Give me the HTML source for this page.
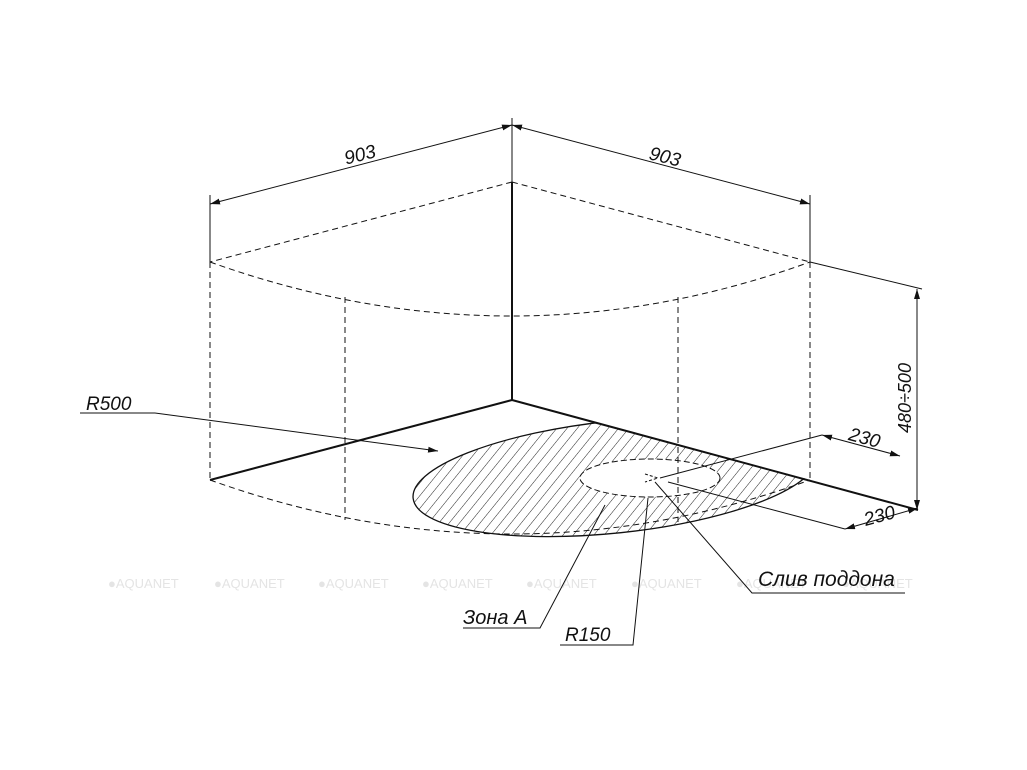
<!DOCTYPE html>
<html><head><meta charset="utf-8"><style>
html,body{margin:0;padding:0;background:#fff;}
svg{display:block;}
text{font-family:"Liberation Sans","DejaVu Sans",sans-serif;font-style:italic;fill:#111;}
text.wm{font-style:normal;fill:#e4e4e4;font-size:13px;}
</style></head><body>
<svg width="1027" height="770" viewBox="0 0 1027 770" xmlns="http://www.w3.org/2000/svg">
<defs>
<pattern id="h" patternUnits="userSpaceOnUse" width="8" height="8" patternTransform="rotate(45)">
<line x1="0" y1="0" x2="0" y2="8" stroke="#222" stroke-width="1"/>
</pattern>
<marker id="a" viewBox="0 0 10 6" refX="10" refY="3" markerWidth="10" markerHeight="6" orient="auto-start-reverse" markerUnits="userSpaceOnUse">
<path d="M0,0 L10,3 L0,6 z" fill="#111"/>
</marker>
<clipPath id="c"><polygon points="380,430 512,400 930,512 930,600 380,600"/></clipPath>
</defs>
<text class="wm" x="108" y="588">●AQUANET</text><text class="wm" x="214" y="588">●AQUANET</text><text class="wm" x="318" y="588">●AQUANET</text>
<text class="wm" x="422" y="588">●AQUANET</text><text class="wm" x="526" y="588">●AQUANET</text><text class="wm" x="631" y="588">●AQUANET</text>
<text class="wm" x="736" y="588">●AQUANET</text><text class="wm" x="842" y="588">●AQUANET</text>
<g clip-path="url(#c)">
<ellipse cx="615" cy="477" rx="203" ry="56" transform="rotate(-6 615 477)" fill="url(#h)" stroke="#111" stroke-width="1.3"/>
</g>
<ellipse cx="650" cy="478" rx="70" ry="19" fill="#fff" stroke="#111" stroke-width="1" stroke-dasharray="6,3"/>
<path d="M645,474 L658,478 L645,482" fill="none" stroke="#111" stroke-width="1" stroke-dasharray="3,2"/>
<g stroke="#111" fill="none" stroke-width="1" stroke-dasharray="6,4">
<line x1="512" y1="182" x2="210" y2="262"/>
<line x1="512" y1="182" x2="810" y2="262"/>
<path d="M210,262 Q512,370 810,262"/>
<path d="M210,480 Q512,588 810,480"/>
<line x1="210" y1="262" x2="210" y2="480"/>
<line x1="810" y1="262" x2="810" y2="480"/>
<line x1="345" y1="297" x2="345" y2="520"/>
<line x1="678" y1="297" x2="678" y2="522"/>
</g>
<g stroke="#111" fill="none" stroke-width="2">
<line x1="512" y1="182" x2="512" y2="400"/>
<line x1="512" y1="400" x2="210" y2="480"/>
<line x1="512" y1="400" x2="918" y2="510"/>
</g>
<g stroke="#111" fill="none" stroke-width="1">
<line x1="512" y1="118" x2="512" y2="182"/>
<line x1="210" y1="195" x2="210" y2="262"/>
<line x1="810" y1="195" x2="810" y2="262"/>
<line x1="512" y1="125" x2="210" y2="204" marker-start="url(#a)" marker-end="url(#a)"/>
<line x1="512" y1="125" x2="810" y2="204" marker-start="url(#a)" marker-end="url(#a)"/>
<line x1="810" y1="262" x2="922" y2="289"/>
<line x1="917" y1="289" x2="917" y2="510" marker-start="url(#a)" marker-end="url(#a)"/>
<line x1="660" y1="478" x2="822" y2="435"/>
<line x1="822" y1="435" x2="900" y2="456" marker-start="url(#a)" marker-end="url(#a)"/>
<line x1="668" y1="482" x2="845" y2="529"/>
<line x1="845" y1="529" x2="918" y2="508" marker-start="url(#a)" marker-end="url(#a)"/>
<polyline points="80,413 155,413"/>
<line x1="155" y1="413" x2="438" y2="451" marker-end="url(#a)"/>
<polyline points="463,628 540,628 605,505"/>
<polyline points="560,645 633,645 648,498"/>
<polyline points="905,593 752,593 655,482"/>
</g>
<text x="360" y="161" font-size="19" transform="rotate(-14 360 155)" text-anchor="middle">903</text>
<text x="665" y="163" font-size="19" transform="rotate(14 665 157)" text-anchor="middle">903</text>
<text x="911" y="398" font-size="18" transform="rotate(-90 911 398)" text-anchor="middle">480÷500</text>
<text x="864" y="444" font-size="19" transform="rotate(15 864 440)" text-anchor="middle">230</text>
<text x="880" y="522" font-size="19" transform="rotate(-15 880 518)" text-anchor="middle">230</text>
<text x="86" y="410" font-size="19">R500</text>
<text x="463" y="624" font-size="20">Зона А</text>
<text x="565" y="641" font-size="19">R150</text>
<text x="758" y="586" font-size="21">Слив поддона</text>
</svg>
</body></html>
